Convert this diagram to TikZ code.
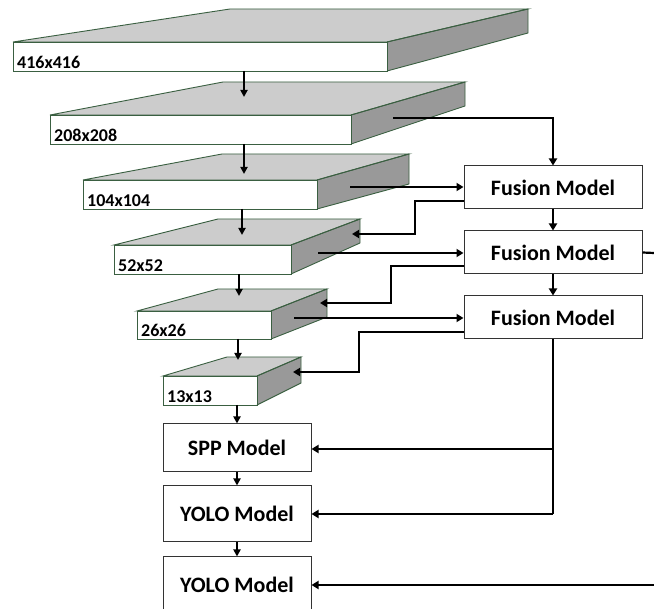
\documentclass[tikz,border=0pt]{standalone}
\usepackage{fontspec}
\setmainfont{Carlito}
\usetikzlibrary{arrows.meta}
\definecolor{blockline}{HTML}{3A5F41}
\definecolor{topgray}{HTML}{CCCCCC}
\definecolor{sidegray}{HTML}{999999}
\tikzset{
  blockedge/.style={draw=blockline, line width=0.9pt, line join=miter},
  modelbox/.style={draw=black!80, line width=1pt, fill=white, inner sep=0pt,
    font=\fontsize{22}{26}\selectfont\bfseries},
  sizelabel/.style={anchor=base west, inner sep=0pt, font=\fontsize{18}{20}\selectfont\bfseries},
  flow/.style={line width=2.2pt, -{Triangle[length=7pt,width=8pt]}},
  plain/.style={line width=2.2pt},
  down/.style={line width=1.8pt, -{Triangle[length=7pt,width=7pt]}},
}
% \cube{name}{x1}{x2}{ytop}{ybot}{blx}{bly}{brx}{sbry}{label}
\newcommand{\featblock}[9]{%
  \fill[topgray] (#1,#3) -- (#5,#6) -- (#7,#6) -- (#2,#3) -- cycle;
  \fill[sidegray] (#2,#3) -- (#7,#6) -- (#7,#8) -- (#2,#4) -- cycle;
  \fill[white] (#1,#3) rectangle (#2,#4);
  \draw[blockedge] (#1,#3) -- (#5,#6) -- (#7,#6) -- (#2,#3) -- cycle;
  \draw[blockedge] (#2,#3) -- (#7,#6) -- (#7,#8) -- (#2,#4);
  \draw[blockedge] (#1,#3) rectangle (#2,#4);
  \node[sizelabel] at (#1+4,#4-2) {#9};
}
\begin{document}
\begin{tikzpicture}[x=1pt,y=-1pt]
\useasboundingbox (0,0) rectangle (654,609);
\clip (0,0) rectangle (654,609);
\fill[white] (0,0) rectangle (654,609);

% feature blocks
\featblock{13}{387}{42}{71}{230}{9}{528}{33}{416x416}
\featblock{50}{351}{115}{144}{223}{82}{465}{106}{208x208}
\featblock{83}{317}{180}{209}{222}{154}{409}{184}{104x104}
\featblock{114}{291}{245}{274}{218}{219}{360}{243}{52x52}
\featblock{137}{271}{311}{339}{218}{289}{327}{317}{26x26}
\featblock{163}{257}{376}{405}{227}{357}{301}{383}{13x13}

% named points on blocks
\coordinate (b1s) at (244,71);  \coordinate (b2t) at (244,97);
\coordinate (b2s) at (244,144); \coordinate (b3t) at (244,174);
\coordinate (b3s) at (242,209); \coordinate (b4t) at (242,235);
\coordinate (b4s) at (239,274); \coordinate (b5t) at (239,296);
\coordinate (b5s) at (238,339); \coordinate (b6t) at (238,360);
\coordinate (b6s) at (237,405);
\coordinate (b2out) at (393,118);
\coordinate (b3out) at (350,187);
\coordinate (b4in) at (352,234);
\coordinate (b4out) at (318,253);
\coordinate (b5in) at (320,303);
\coordinate (b5out) at (294,318);
\coordinate (b6in) at (293,372);
\coordinate (eastA) at (654,253);
\coordinate (eastB) at (654,585);

% model boxes
\node[modelbox, minimum width=178pt, minimum height=43pt] (f1) at (553,187.5) {Fusion Model};
\node[modelbox, minimum width=178pt, minimum height=43pt] (f2) at (553,252.5) {Fusion Model};
\node[modelbox, minimum width=178pt, minimum height=43pt] (f3) at (553,317.5) {Fusion Model};
\node[modelbox, minimum width=148pt, minimum height=48pt] (spp) at (237,448) {SPP Model};
\node[modelbox, minimum width=148pt, minimum height=56pt] (y1) at (237,514) {YOLO Model};
\node[modelbox, minimum width=148pt, minimum height=56pt] (y2) at (237,585) {YOLO Model};

% downward flow through blocks
\draw[down] (b1s) -- (b2t);
\draw[down] (b2s) -- (b3t);
\draw[down] (b3s) -- (b4t);
\draw[down] (b4s) -- (b5t);
\draw[down] (b5s) -- (b6t);
\draw[down] (b6s) -- (spp.north -| b6s);
\draw[down] (spp.south) -- (y1.north);
\draw[down] (y1.south) -- (y2.north);

% fusion connections
\draw[flow] (b2out) -| (f1.north);
\draw[flow] (b3out) -- (b3out -| f1.west);
\draw[flow] (f1.west |- 0,201) -- (415,201) -- (415,234) -- (b4in);
\draw[flow] (b4out) -- (b4out -| f2.west);
\draw[flow] (f2.west |- 0,266) -- (391,266) -- (391,303) -- (b5in);
\draw[flow] (b5out) -- (b5out -| f3.west);
\draw[flow] (f3.west |- 0,332) -- (359,332) -- (359,372) -- (b6in);
\draw[flow] (f1.south) -- (f2.north);
\draw[flow] (f2.south) -- (f3.north);

% outputs
\coordinate (branch) at (553,449);
\draw[plain] (f3.south) -- (553,514);
\draw[flow] (branch) -- (spp.east |- branch);
\draw[flow] (553,514) -- (y1.east);
\draw[plain] (f2.east) -- (eastA);
\draw[flow] (eastB) -- (y2.east);
\end{tikzpicture}
\end{document}
